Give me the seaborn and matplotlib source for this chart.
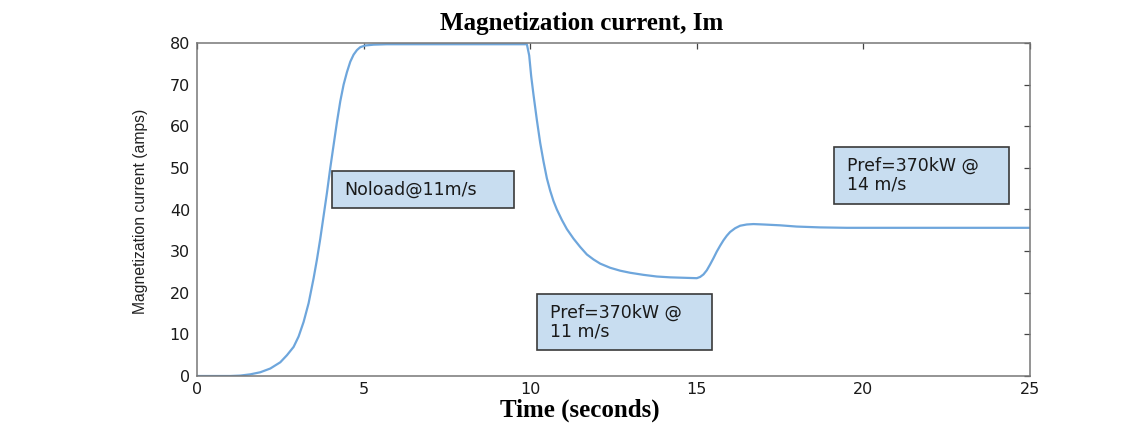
import numpy as np
import pandas as pd
import matplotlib
matplotlib.use("Agg")
import matplotlib.pyplot as plt
from matplotlib import font_manager
from matplotlib.patches import Rectangle
import seaborn as sns

# Simulated magnetization current of the generator (A) versus time (s)
time_s = [0, 1.0, 1.3, 1.6, 1.9, 2.2, 2.5, 2.7, 2.9, 3.05, 3.2, 3.35, 3.5,
          3.6, 3.7, 3.8, 3.9, 4.0, 4.1, 4.2, 4.3, 4.4, 4.5, 4.6, 4.7, 4.8,
          4.9, 5.05, 5.3, 5.7, 7.0, 9.9, 9.97, 10.03, 10.1, 10.2, 10.3, 10.4,
          10.5, 10.6, 10.7, 10.8, 10.95, 11.1, 11.3, 11.5, 11.7, 11.9, 12.1,
          12.4, 12.7, 13.0, 13.4, 13.8, 14.2, 14.6, 15.0, 15.1, 15.2, 15.3,
          15.4, 15.5, 15.6, 15.7, 15.8, 15.9, 16.0, 16.15, 16.3, 16.5, 16.7,
          17.0, 17.5, 18.0, 18.7, 19.5, 22.0, 25.0]
current_a = [0, 0, 0.1, 0.4, 0.9, 1.8, 3.3, 5.0, 7.0, 9.5, 13.0, 17.5, 23.5,
             28.0, 33.0, 38.5, 44.0, 50.0, 55.5, 61.0, 66.0, 70.0, 73.0, 75.5,
             77.2, 78.3, 79.0, 79.4, 79.6, 79.7, 79.7, 79.7, 77.0, 72.0, 67.5,
             61.5, 56.0, 51.5, 47.5, 44.5, 42.0, 40.0, 37.5, 35.3, 33.0, 31.0,
             29.2, 28.0, 27.0, 26.0, 25.3, 24.8, 24.3, 23.9, 23.7, 23.6, 23.5,
             23.8, 24.4, 25.4, 26.8, 28.3, 29.9, 31.3, 32.6, 33.7, 34.6, 35.5,
             36.1, 36.4, 36.5, 36.4, 36.2, 35.9, 35.7, 35.6, 35.6, 35.6]

x_ticks = [0, 5, 10, 15, 20, 25]
y_ticks = [0, 10, 20, 30, 40, 50, 60, 70, 80]

# Operating-point annotations: text, box (t0, t1, i_low, i_high)
notes = ["Noload@11m/s", "Pref=370kW @\n11 m/s", "Pref=370kW @\n14 m/s"]
note_boxes = [(4.05, 9.5, 40.3, 49.3), (10.2, 15.45, 6.2, 19.7),
              (19.12, 24.37, 41.3, 55.0)]

title = "Magnetization current, Im"
x_label = "Time (seconds)"
y_label = "Magnetization current (amps)"

sns.set_theme(style="white")
installed = {f.name for f in font_manager.fontManager.ttflist}
plt.rcParams["font.family"] = ["DejaVu Sans"]
serif = ["Liberation Serif", "DejaVu Serif"]
if "Liberation Sans Narrow" in installed:
    narrow, narrow_size = "Liberation Sans Narrow", 13.2
else:
    narrow, narrow_size = "Liberation Sans", 11.3

df = pd.DataFrame({"t": time_s, "im": current_a})

fig = plt.figure(figsize=(11.45, 4.25), dpi=100)
fig.patch.set_facecolor("white")
ax = fig.add_axes([197 / 1145, 1 - 376 / 425, 833 / 1145, 333 / 425])

sns.lineplot(data=df, x="t", y="im", ax=ax, color="#6ea6dc", linewidth=1.6,
             sort=False)
for ln in ax.lines:
    ln.set_solid_joinstyle("round")

ax.set_xlim(0, 25)
ax.set_ylim(0, 80)
ax.set_xticks(x_ticks)
ax.set_yticks(y_ticks)
ax.tick_params(axis="both", which="major", direction="in", length=4,
               width=0.9, color="#444444", labelsize=11.5, labelcolor="#1a1a1a",
               top=True, right=True, pad=5)
ax.tick_params(axis="x", pad=4)
for s in ax.spines.values():
    s.set_color("#777777")
    s.set_linewidth(1.1)

ax.set_xlabel("")
ax.set_ylabel(y_label, family=narrow, fontsize=narrow_size, color="#222222",
              va="center")
ax.yaxis.set_label_coords(-0.0684, 0.4955)

for text, (t0, t1, lo, hi) in zip(notes, note_boxes):
    ax.add_patch(Rectangle((t0, lo), t1 - t0, hi - lo, facecolor="#c8ddf0",
                           edgecolor="#3a3a3a", linewidth=1.2, zorder=3))
    ax.text(t0 + 0.38, (lo + hi) / 2, text, ha="left", va="center",
            fontsize=12.5, color="#1a1a1a", linespacing=1.05, zorder=4)

fig.text(582 / 1145, 1 - 30 / 425, title, ha="center", va="baseline",
         family=serif, fontweight="bold", fontsize=18, color="black")
fig.text(580 / 1145, 1 - 417 / 425, x_label, ha="center", va="baseline",
         family=serif, fontweight="bold", fontsize=18, color="black")

fig.savefig("out.png", dpi=100, facecolor="white")
